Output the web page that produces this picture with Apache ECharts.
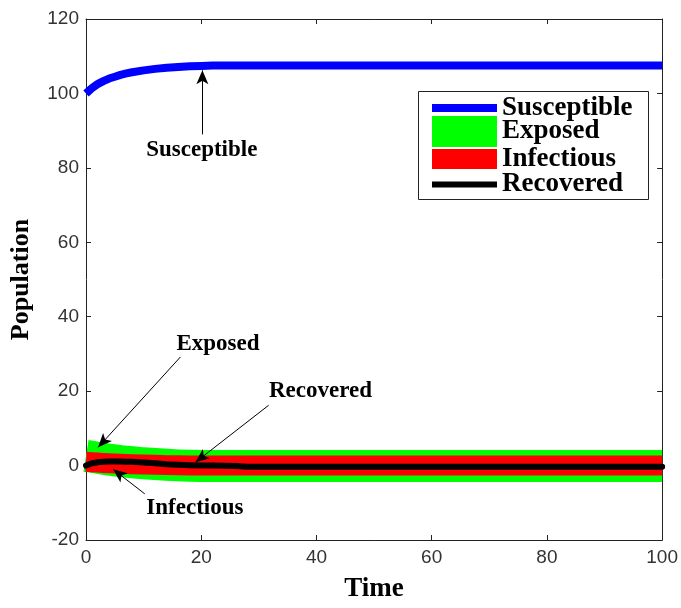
<!DOCTYPE html>
<html>
<head>
<meta charset="utf-8">
<script src="https://cdn.jsdelivr.net/npm/echarts@6/dist/echarts.min.js"></script>
<style>
  html, body { margin: 0; padding: 0; background: #fff; overflow: hidden; }
  #chart { position: absolute; left: 0; top: 0; width: 681px; height: 608px; }
</style>
</head>
<body>
<div id="chart"></div>
<script>
// Time samples shared by all compartments
const time = [0, 1, 2, 3, 4, 5, 6, 7, 8, 10, 12, 14, 16, 18, 20, 22, 24, 26, 28, 30, 40, 50, 60, 70, 80, 90, 100];

// Compartment sizes over time
const susceptible = [100, 101.4, 102.5, 103.3, 104.0, 104.5, 105.0, 105.4, 105.7, 106.2, 106.6, 106.9, 107.1, 107.3, 107.4, 107.5, 107.5, 107.5, 107.5, 107.5, 107.5, 107.5, 107.5, 107.5, 107.5, 107.5, 107.5];
const exposed     = [2.6, 2.35, 2.1, 1.85, 1.6, 1.4, 1.2, 1.05, 0.9, 0.6, 0.4, 0.2, 0.05, -0.05, -0.1, -0.1, -0.1, -0.1, -0.1, -0.1, -0.1, -0.1, -0.1, -0.1, -0.1, -0.1, -0.1];
const infectious  = [1.0, 0.9, 0.8, 0.7, 0.62, 0.55, 0.5, 0.43, 0.38, 0.28, 0.2, 0.12, 0.06, 0.03, 0.02, 0, 0, 0, 0, 0, 0, 0, 0, 0, 0, 0, 0];
const recovered   = [0, 0.6, 0.9, 1.05, 1.1, 1.1, 1.1, 1.05, 1.0, 0.85, 0.6, 0.35, 0.2, 0.1, 0.05, 0, -0.05, -0.1, -0.3, -0.3, -0.3, -0.3, -0.3, -0.3, -0.3, -0.3, -0.3];

const seriesNames = ['Susceptible', 'Exposed', 'Infectious', 'Recovered'];

// Axis ranges and ticks
const xTicks = [0, 20, 40, 60, 80, 100];
const yTicks = [-20, 0, 20, 40, 60, 80, 100, 120];

// Callout labels: text position, arrow tail, arrow head (data units)
const noteNames = ['Susceptible', 'Exposed', 'Recovered', 'Infectious'];
const noteText  = [[20.1, 84.8], [22.9, 32.7], [40.7, 20.0], [18.9, -11.5]];
const noteTail  = [[20.2, 89.0], [16.4, 29.2], [31.7, 16.2], [10.2, -7.6]];
const noteHead  = [[20.2, 106.2], [2.1, 4.9], [19.0, 0.9], [4.7, -1.0]];

const serif = '"Liberation Serif", "Times New Roman", serif';
const sans = '"Liberation Sans", Arial, sans-serif';

function pairs(ys) { return time.map((t, i) => [t, ys[i]]); }

const axisLine = { show: true, onZero: false, lineStyle: { color: '#222', width: 1 } };
const tickIn = { show: true, inside: true, length: 5, lineStyle: { color: '#222', width: 1 } };
const tickLabel = { color: '#333', fontFamily: sans, fontSize: 19 };

const chart = echarts.init(document.getElementById('chart'), null, { renderer: 'canvas', width: 681, height: 608 });

function legendItem(name, top, h, color) {
  return {
    show: true,
    selectedMode: false,
    orient: 'vertical',
    left: 432,
    top: top,
    padding: 0,
    itemWidth: 65,
    itemHeight: h,
    itemGap: 0,
    data: [{ name: name, icon: 'rect', itemStyle: { color: color, borderWidth: 0 } }],
    textStyle: { fontFamily: serif, fontWeight: 'bold', fontSize: 27, color: '#000', lineHeight: 26, padding: [0, 0, 0, 0] }
  };
}

const option = {
  animation: false,
  backgroundColor: '#fff',
  grid: { left: 83, top: 19, width: 580, height: 530, containLabel: false },
  xAxis: [
    {
      type: 'value', min: xTicks[0], max: xTicks[xTicks.length - 1], interval: 20,
      position: 'bottom',
      axisLine: axisLine, axisTick: tickIn, splitLine: { show: false },
      axisLabel: Object.assign({ margin: 8 }, tickLabel),
      name: 'Time', nameLocation: 'middle', nameGap: 36,
      nameTextStyle: { fontFamily: serif, fontWeight: 'bold', fontSize: 27, color: '#000' }
    },
    {
      type: 'value', min: xTicks[0], max: xTicks[xTicks.length - 1], interval: 20,
      position: 'top',
      axisLine: axisLine, axisTick: tickIn, splitLine: { show: false },
      axisLabel: { show: false }
    }
  ],
  yAxis: [
    {
      type: 'value', min: yTicks[0], max: yTicks[yTicks.length - 1], interval: 20,
      position: 'left',
      axisLine: axisLine, axisTick: tickIn, splitLine: { show: false },
      axisLabel: Object.assign({ margin: 7 }, tickLabel),
      name: 'Population', nameLocation: 'middle', nameGap: 52, nameRotate: 90,
      nameTextStyle: { fontFamily: serif, fontWeight: 'bold', fontSize: 26, color: '#000' }
    },
    {
      type: 'value', min: yTicks[0], max: yTicks[yTicks.length - 1], interval: 20,
      position: 'right',
      axisLine: axisLine, axisTick: tickIn, splitLine: { show: false },
      axisLabel: { show: false }
    }
  ],
  legend: [
    legendItem(seriesNames[0], 94.5, 8, '#0000ff'),
    legendItem(seriesNames[1], 116, 31, '#00ff00'),
    legendItem(seriesNames[2], 145.5, 20, '#ff0000'),
    legendItem(seriesNames[3], 171, 6, '#000000')
  ],
  graphic: [
    {
      type: 'rect', z: 0, silent: true,
      shape: { x: 418.5, y: 91.5, width: 230, height: 108 },
      style: { fill: '#fff', stroke: '#222', lineWidth: 1 }
    }
  ],
  series: [
    {
      name: seriesNames[1], type: 'line', data: pairs(exposed),
      showSymbol: false, symbol: 'none', z: 2,
      lineStyle: { color: '#00ff00', width: 32, cap: 'butt', join: 'round' },
      itemStyle: { color: '#00ff00' }
    },
    {
      name: seriesNames[2], type: 'line', data: pairs(infectious),
      showSymbol: false, symbol: 'none', z: 3,
      lineStyle: { color: '#ff0000', width: 20, cap: 'butt', join: 'round' },
      itemStyle: { color: '#ff0000' }
    },
    {
      name: seriesNames[3], type: 'line', data: pairs(recovered),
      showSymbol: false, symbol: 'none', z: 4, clip: false,
      lineStyle: { color: '#000000', width: 6, cap: 'round', join: 'round' },
      itemStyle: { color: '#000000' }
    },
    {
      name: seriesNames[0], type: 'line', data: pairs(susceptible),
      showSymbol: false, symbol: 'none', z: 4,
      lineStyle: { color: '#0000ff', width: 8, cap: 'butt', join: 'round' },
      itemStyle: { color: '#0000ff' }
    },
    {
      // callout arrows and their labels
      name: 'notes', type: 'line', data: [], z: 6, silent: true,
      markLine: {
        silent: true,
        symbol: ['none', 'arrow'],
        symbolSize: [9, 14],
        label: { show: false },
        lineStyle: { color: '#000', width: 1, type: 'solid' },
        emphasis: { disabled: true },
        data: noteTail.map((p, i) => [{ coord: p }, { coord: noteHead[i] }])
      },
      markPoint: {
        silent: true,
        symbol: 'circle',
        symbolSize: 1,
        itemStyle: { color: 'rgba(0,0,0,0)' },
        label: {
          show: true, position: 'inside', formatter: '{b}',
          fontFamily: serif, fontWeight: 'bold', fontSize: 23, color: '#000'
        },
        data: noteNames.map((n, i) => ({ name: n, coord: noteText[i] }))
      }
    }
  ]
};

chart.setOption(option);
</script>
</body>
</html>
